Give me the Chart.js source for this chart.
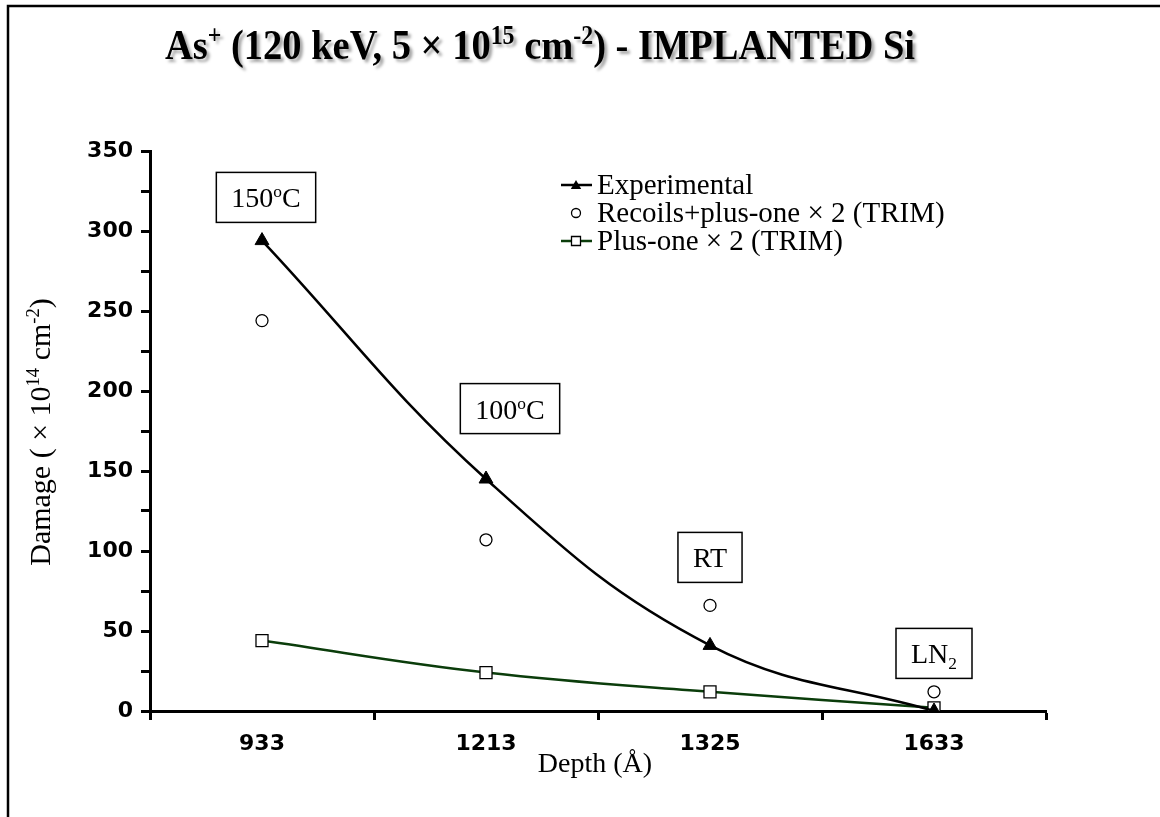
<!DOCTYPE html>
<html>
<head>
<meta charset="utf-8">
<title>As+ implanted Si damage</title>
<script src="https://cdn.jsdelivr.net/npm/chart.js@4/dist/chart.umd.min.js"></script>
<style>
  html, body { margin: 0; padding: 0; background: #fff; }
  #wrap { width: 1160px; height: 817px; }
</style>
</head>
<body>
<div id="wrap"><canvas id="chart" width="1160" height="817"></canvas></div>
<script>
// data
const depths = ['933', '1213', '1325', '1633'];
const experimental = [294, 145, 41, 0];
const recoils = [244, 107, 66, 12];
const plusOne = [44, 24, 12, 2];
const yMin = 0, yMax = 350, yStep = 50, yMinor = 25;

// boxed notes: text pieces, category index, value of box centre
const noteText = [
  [{ t: '150' }, { t: 'o', sup: true }, { t: 'C' }],
  [{ t: '100' }, { t: 'o', sup: true }, { t: 'C' }],
  [{ t: 'RT' }],
  [{ t: 'LN' }, { t: '2', sub: true }]
];
const noteAt = [0, 1, 2, 3];
const noteValue = [321, 189, 96, 36];

const serif = '"Liberation Serif", "Times New Roman", serif';
const sans = '"DejaVu Sans", Verdana, sans-serif';

// text with super/subscripts
function richWidth(ctx, parts, size, weight) {
  let w = 0;
  parts.forEach(p => {
    const s = (p.sup || p.sub) ? size * 0.62 : size;
    ctx.font = weight + ' ' + s + 'px ' + serif;
    w += ctx.measureText(p.t).width;
  });
  return w;
}
function drawRich(ctx, parts, x, y, size, weight, align) {
  const w = richWidth(ctx, parts, size, weight);
  let cx = align === 'center' ? x - w / 2 : x;
  ctx.textAlign = 'left';
  ctx.textBaseline = 'alphabetic';
  parts.forEach(p => {
    const s = (p.sup || p.sub) ? size * 0.62 : size;
    ctx.font = weight + ' ' + s + 'px ' + serif;
    let dy = 0;
    if (p.sup) dy = -size * 0.36;
    if (p.sub) dy = size * 0.2;
    ctx.fillText(p.t, cx, y + dy);
    cx += ctx.measureText(p.t).width;
  });
  return w;
}

function marker(ctx, style, x, y, r) {
  ctx.beginPath();
  if (style === 'triangle') {
    ctx.moveTo(x, y - r);
    ctx.lineTo(x + r * 0.866, y + r * 0.5);
    ctx.lineTo(x - r * 0.866, y + r * 0.5);
    ctx.closePath();
    ctx.fillStyle = '#000';
    ctx.fill();
  } else if (style === 'circle') {
    ctx.arc(x, y, r, 0, Math.PI * 2);
    ctx.fillStyle = '#fff';
    ctx.fill();
    ctx.lineWidth = 1.3;
    ctx.strokeStyle = '#000';
    ctx.stroke();
  } else {
    ctx.rect(x - r, y - r, 2 * r, 2 * r);
    ctx.fillStyle = '#fff';
    ctx.fill();
    ctx.lineWidth = 1.3;
    ctx.strokeStyle = '#000';
    ctx.stroke();
  }
}

const decor = {
  id: 'decor',
  afterDraw(chart) {
    const ctx = chart.ctx;
    const xs = chart.scales.x, ys = chart.scales.y;
    ctx.save();

    // frame
    ctx.strokeStyle = '#000';
    ctx.lineWidth = 2.5;
    ctx.beginPath();
    ctx.moveTo(8, 817);
    ctx.lineTo(8, 6);
    ctx.lineTo(1160, 6);
    ctx.stroke();

    // title with shadow, a little condensed
    const title = [
      { t: 'As' }, { t: '+', sup: true }, { t: ' (120 keV, 5 \u00d7 10' }, { t: '15', sup: true },
      { t: ' cm' }, { t: '-2', sup: true }, { t: ') - IMPLANTED Si' }
    ];
    const tw = richWidth(ctx, title, 43, 'bold');
    ctx.save();
    ctx.translate(540, 59);
    ctx.scale(750 / tw, 1);
    ctx.shadowColor = 'rgba(0,0,0,0.35)';
    ctx.shadowOffsetX = 3;
    ctx.shadowOffsetY = 3;
    ctx.shadowBlur = 3;
    ctx.fillStyle = '#000';
    drawRich(ctx, title, 0, 0, 43, 'bold', 'center');
    ctx.restore();

    // axis titles
    ctx.fillStyle = '#000';
    ctx.save();
    ctx.translate(50, 432);
    ctx.rotate(-Math.PI / 2);
    drawRich(ctx, [{ t: 'Damage ( \u00d7 10' }, { t: '14', sup: true }, { t: ' cm' }, { t: '-2', sup: true }, { t: ')' }],
      0, 0, 30, 'normal', 'center');
    ctx.restore();
    drawRich(ctx, [{ t: 'Depth (\u00c5)' }], 595, 772, 28, 'normal', 'center');

    // legend inside the plot
    const rows = [
      { label: 'Experimental', style: 'triangle', line: '#000', r: 6 },
      { label: 'Recoils+plus-one \u00d7 2 (TRIM)', style: 'circle', line: null, r: 4.5 },
      { label: 'Plus-one \u00d7 2 (TRIM)', style: 'rect', line: '#0b3d0b', r: 4.5 }
    ];
    const base = [194, 222, 250];
    rows.forEach((row, i) => {
      const my = base[i] - 9;
      if (row.line) {
        ctx.strokeStyle = row.line;
        ctx.lineWidth = 2.5;
        ctx.beginPath();
        ctx.moveTo(561, my);
        ctx.lineTo(592, my);
        ctx.stroke();
      }
      marker(ctx, row.style, 576, my + (row.style === 'triangle' ? 1 : 0), row.r);
      ctx.fillStyle = '#000';
      drawRich(ctx, [{ t: row.label }], 597, base[i], 29, 'normal', 'left');
    });

    // boxed temperature notes
    const shift = [4, 24, 0, 0];
    noteText.forEach((parts, i) => {
      const cx = xs.getPixelForValue(noteAt[i]) + shift[i];
      const cy = ys.getPixelForValue(noteValue[i]);
      const w = richWidth(ctx, parts, 28, 'normal') + 30;
      const h = 50;
      ctx.fillStyle = '#fff';
      ctx.fillRect(cx - w / 2, cy - h / 2, w, h);
      ctx.strokeStyle = '#000';
      ctx.lineWidth = 1.5;
      ctx.strokeRect(cx - w / 2, cy - h / 2, w, h);
      ctx.fillStyle = '#000';
      drawRich(ctx, parts, cx, cy + 10, 28, 'normal', 'center');
    });

    ctx.restore();
  }
};

new Chart(document.getElementById('chart'), {
  type: 'line',
  data: {
    labels: depths,
    datasets: [
      {
        label: 'Experimental',
        data: experimental,
        borderColor: '#000',
        backgroundColor: '#000',
        borderWidth: 2.5,
        tension: 0.4,
        pointStyle: 'triangle',
        pointRadius: 8,
        pointBackgroundColor: '#000',
        pointBorderColor: '#000',
        pointBorderWidth: 1
      },
      {
        label: 'Recoils+plus-one \u00d7 2 (TRIM)',
        data: recoils,
        showLine: false,
        pointStyle: 'circle',
        pointRadius: 6,
        pointBackgroundColor: '#fff',
        pointBorderColor: '#000',
        pointBorderWidth: 1.3
      },
      {
        label: 'Plus-one \u00d7 2 (TRIM)',
        data: plusOne,
        borderColor: '#0b3d0b',
        borderWidth: 2.5,
        tension: 0.4,
        pointStyle: 'rect',
        pointRadius: 8.5,
        pointBackgroundColor: '#fff',
        pointBorderColor: '#000',
        pointBorderWidth: 1.3
      }
    ]
  },
  options: {
    responsive: false,
    animation: false,
    layout: { padding: { left: 0, top: 151, right: 114, bottom: 0 } },
    plugins: {
      legend: { display: false },
      tooltip: { enabled: false }
    },
    scales: {
      x: {
        offset: true,
        grid: { display: true, offset: true, drawOnChartArea: false, drawTicks: true, tickLength: 9, tickColor: '#000', tickWidth: 3 },
        border: { display: true, color: '#000', width: 3 },
        ticks: { color: '#000', font: { family: sans, size: 22, weight: 'bold' }, padding: 11, maxRotation: 0 },
        afterFit(s) { s.height = 106; }
      },
      y: {
        min: yMin,
        max: yMax,
        grid: { display: true, drawOnChartArea: false, drawTicks: true, tickLength: 9, tickColor: '#000', tickWidth: 3 },
        border: { display: true, color: '#000', width: 3 },
        ticks: {
          stepSize: yMinor,
          color: '#000',
          padding: 8,
          font: { family: sans, size: 22, weight: 'bold' },
          callback: v => (v % yStep === 0 ? v : '')
        },
        afterFit(s) { s.width = 150; }
      }
    }
  },
  plugins: [decor]
});
</script>
</body>
</html>
